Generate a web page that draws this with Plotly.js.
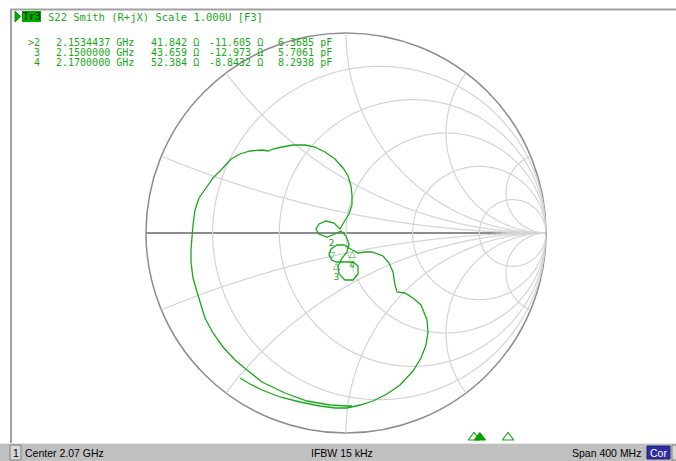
<!DOCTYPE html>
<html><head><meta charset="utf-8">
<script src="https://cdn.plot.ly/plotly-3.0.1.min.js"></script>
<style>html,body{margin:0;padding:0;background:#fff;}#chart{width:676px;height:461px;}</style>
</head><body><div id="chart"></div>
<script>
// S22 reflection coefficient, sweep order
const gammaRe = [0.030,0.005,-0.080,-0.195,-0.305,-0.420,-0.495,-0.555,-0.615,-0.665,-0.705,-0.725,-0.745,-0.765,-0.775,-0.775,-0.770,-0.765,-0.755,-0.735,-0.700,-0.665,-0.620,-0.575,-0.530,-0.480,-0.420,-0.390,-0.365,-0.320,-0.265,-0.205,-0.155,-0.105,-0.055,-0.015,0.010,0.025,0.030,0.030,0.015,-0.010,-0.030,-0.060,-0.100,-0.135,-0.150,-0.135,-0.095,-0.055,-0.025,0.000,0.015,0.005,-0.020,-0.040,-0.035,-0.005,0.035,0.060,0.060,0.035,-0.005,-0.048,-0.072,-0.085,-0.075,-0.045,-0.010,0.015,0.030,0.060,0.095,0.130,0.185,0.215,0.235,0.245,0.255,0.295,0.335,0.375,0.405,0.410,0.400,0.375,0.335,0.270,0.205,0.135,0.070,0.005,-0.055,-0.130,-0.230,-0.330,-0.420,-0.480,-0.530];
const gammaIm = [-0.865,-0.865,-0.860,-0.840,-0.800,-0.745,-0.685,-0.635,-0.570,-0.500,-0.425,-0.360,-0.295,-0.225,-0.145,-0.085,-0.020,0.040,0.115,0.175,0.225,0.275,0.320,0.370,0.395,0.410,0.415,0.410,0.420,0.430,0.440,0.440,0.430,0.405,0.370,0.325,0.285,0.235,0.190,0.140,0.095,0.055,0.020,0.050,0.060,0.045,0.020,-0.005,-0.020,-0.005,0.010,-0.015,-0.055,-0.095,-0.125,-0.165,-0.205,-0.235,-0.235,-0.205,-0.165,-0.145,-0.145,-0.145,-0.135,-0.110,-0.080,-0.060,-0.060,-0.075,-0.084,-0.100,-0.095,-0.095,-0.115,-0.150,-0.195,-0.260,-0.295,-0.300,-0.325,-0.360,-0.435,-0.495,-0.560,-0.625,-0.690,-0.760,-0.805,-0.840,-0.860,-0.875,-0.875,-0.865,-0.845,-0.820,-0.785,-0.755,-0.725];

// marker table
const markerNames = ['>2', '3', '4'];
const markerFreqGHz = [2.1534437, 2.1500000, 2.1700000];
const markerR = [41.842, 43.659, 52.384];
const markerX = [-11.605, -12.973, -8.8432];
const markerC = [6.3685, 5.7061, 8.2938];
const Z0 = 50;

// Smith grid values
const gridR = [0.2, 0.5, 1, 2, 5];
const gridX = [0.2, 0.5, 1, 2, 5];

const headerText = 'S22 Smith (R+jX) Scale 1.000U [F3]';
const centerGHz = 2.07, spanMHz = 400, ifbwKHz = 15;

// Gamma -> normalized impedance
const zRe = [], zIm = [];
for (let i = 0; i < gammaRe.length; i++) {
  const a = gammaRe[i], b = gammaIm[i];
  const d = (1 - a) * (1 - a) + b * b;
  zRe.push((1 - a * a - b * b) / d);
  zIm.push(2 * b / d);
}
const mzRe = markerR.map(v => v / Z0);
const mzIm = markerX.map(v => v / Z0);

const W = 676, H = 461;
const px = x => x / W, py = y => 1 - y / H;
const green = '#1aa81a';
const gridColor = '#d4d4d4';
const mono = {family: 'DejaVu Sans Mono, Liberation Mono, monospace', size: 10, color: green};
const sans = {family: 'Liberation Sans, Arial, sans-serif', size: 10.5, color: '#000'};

const traces = [];
// constant-resistance circles
gridR.forEach(r => {
  const re = [], im = [];
  for (let k = 1; k < 720; k++) {
    const phi = k * Math.PI / 360;
    re.push(r); im.push((r + 1) / Math.tan(phi / 2));
  }
  traces.push({type: 'scattersmith', real: re, imag: im, mode: 'lines',
    line: {color: gridColor, width: 1.2}, hoverinfo: 'skip', showlegend: false});
});
// constant-reactance arcs
gridX.forEach(x => {
  [x, -x].forEach(xx => {
    const re = [], im = [];
    for (let k = 0; k < 600; k++) {
      const s = k / 600;
      re.push(s / (1 - s)); im.push(xx);
    }
    traces.push({type: 'scattersmith', real: re, imag: im, mode: 'lines',
      line: {color: gridColor, width: 1.2}, hoverinfo: 'skip', showlegend: false});
  });
});

traces.push(
  {type: 'scattersmith', real: zRe, imag: zIm, mode: 'lines',
   line: {color: green, width: 1.3}, hoverinfo: 'skip', showlegend: false},
  {type: 'scattersmith', real: mzRe, imag: mzIm, mode: 'text',
   text: markerNames.map((n, i) => i === 0 ? n.replace('>', '') + '<br>▽' : '△<br>' + n),
   textposition: markerNames.map((n, i) => i === 0 ? 'top center' : 'bottom center'),
   textfont: {family: 'DejaVu Sans', size: 9, color: green}, showlegend: false, hoverinfo: 'skip'},
  {type: 'scatter', x: markerFreqGHz.slice(1), y: [0, 0], mode: 'markers', xaxis: 'x', yaxis: 'y',
   marker: {symbol: 'triangle-up-open', size: 10, color: green, line: {width: 1.2, color: green}},
   showlegend: false, hoverinfo: 'skip'},
  {type: 'scatter', x: [markerFreqGHz[0]], y: [0], mode: 'markers', xaxis: 'x', yaxis: 'y',
   marker: {symbol: 'triangle-up', size: 10, color: '#00a000', line: {width: 1, color: '#00a000'}},
   showlegend: false, hoverinfo: 'skip'}
);

const annotations = [];
function ann(text, x, y, xanchor, font) {
  annotations.push({text: text, x: px(x), y: py(y), xref: 'paper', yref: 'paper',
    xanchor: xanchor, yanchor: 'middle', showarrow: false, font: font, borderpad: 0});
}
ann('Tr3', 31.5, 16.5, 'center', {family: 'DejaVu Sans Mono, monospace', size: 10, color: '#002800'});
ann(headerText, 47, 17, 'left', Object.assign({}, mono, {size: 10.5}));
const rowsY = [42, 52, 62];
markerNames.forEach((n, i) => {
  ann(n, 41, rowsY[i], 'right', mono);
  ann(markerFreqGHz[i].toFixed(7) + ' GHz', 55, rowsY[i], 'left', mono);
  ann(markerR[i].toPrecision(5) + ' Ω', 150, rowsY[i], 'left', mono);
  ann(markerX[i].toPrecision(5) + ' Ω', 208, rowsY[i], 'left', mono);
  ann(markerC[i].toPrecision(5) + ' pF', 277, rowsY[i], 'left', mono);
});
ann('1', 15.5, 452.5, 'center', sans);
ann('Center ' + centerGHz + ' GHz', 24, 452.5, 'left', sans);
ann('IFBW ' + ifbwKHz + ' kHz', 310, 452.5, 'left', sans);
ann('Span ' + spanMHz + ' MHz', 571, 452.5, 'left', sans);
ann('Cor', 658.5, 452.5, 'center', {family: 'Liberation Sans, Arial, sans-serif', size: 10.5, color: '#ffffff'});

const shapes = [
  {type: 'rect', xref: 'paper', yref: 'paper', x0: 0, x1: 1, y0: 0, y1: py(443), fillcolor: '#c0c0c0', line: {width: 0}},
  {type: 'line', xref: 'paper', yref: 'paper', x0: 0, x1: 1, y0: py(443.5), y1: py(443.5), line: {color: '#e8e8e8', width: 1}},
  {type: 'rect', xref: 'paper', yref: 'paper', x0: px(10), x1: px(21), y0: py(460), y1: py(445), fillcolor: '#d8d8d8', line: {color: '#808080', width: 1}},
  {type: 'rect', xref: 'paper', yref: 'paper', x0: px(647), x1: px(670), y0: py(459), y1: py(446), fillcolor: '#2e2ea0', line: {color: '#20207a', width: 1}},
  {type: 'rect', xref: 'paper', yref: 'paper', x0: px(672), x1: px(677), y0: py(460), y1: py(445), fillcolor: '#d8d8d8', line: {color: '#808080', width: 1}},
  {type: 'line', xref: 'paper', yref: 'paper', x0: px(10), x1: 1, y0: py(9.5), y1: py(9.5), line: {color: '#a0a0a0', width: 2}},
  {type: 'line', xref: 'paper', yref: 'paper', x0: px(11), x1: px(11), y0: py(9), y1: py(443), line: {color: '#a0a0a0', width: 2}},
  {type: 'rect', xref: 'paper', yref: 'paper', x0: px(22), x1: px(41), y0: py(22), y1: py(11), fillcolor: '#00a800', line: {width: 0}},
  {type: 'path', xref: 'paper', yref: 'paper',
   path: 'M ' + px(15) + ' ' + py(11) + ' L ' + px(20.5) + ' ' + py(16.5) + ' L ' + px(15) + ' ' + py(22) + ' Z',
   fillcolor: '#00a800', line: {color: '#00a800', width: 1}}
];

const layout = {
  width: W, height: H,
  margin: {l: 0, r: 0, t: 0, b: 0},
  paper_bgcolor: '#ffffff', plot_bgcolor: 'rgba(0,0,0,0)',
  showlegend: false,
  smith: {
    domain: {x: [146 / W, 546 / W], y: [1 - 433 / H, 1 - 33 / H]},
    bgcolor: '#ffffff',
    realaxis: {tickvals: gridR, showgrid: false, showticklabels: false, ticks: '',
               showline: true, linecolor: '#8c8c8c', linewidth: 2, layer: 'below traces'},
    imaginaryaxis: {tickvals: gridX, showgrid: false, showticklabels: false, ticks: '',
               showline: true, linecolor: '#8c8c8c', linewidth: 1.5, layer: 'below traces'}
  },
  xaxis: {visible: false, domain: [0, 1], range: [1.87118, 2.26882], fixedrange: true},
  yaxis: {visible: false, domain: [py(445), py(430)], range: [-1, 1], fixedrange: true},
  annotations: annotations,
  shapes: shapes
};

Plotly.newPlot('chart', traces, layout, {staticPlot: true, displayModeBar: false});
</script></body></html>
